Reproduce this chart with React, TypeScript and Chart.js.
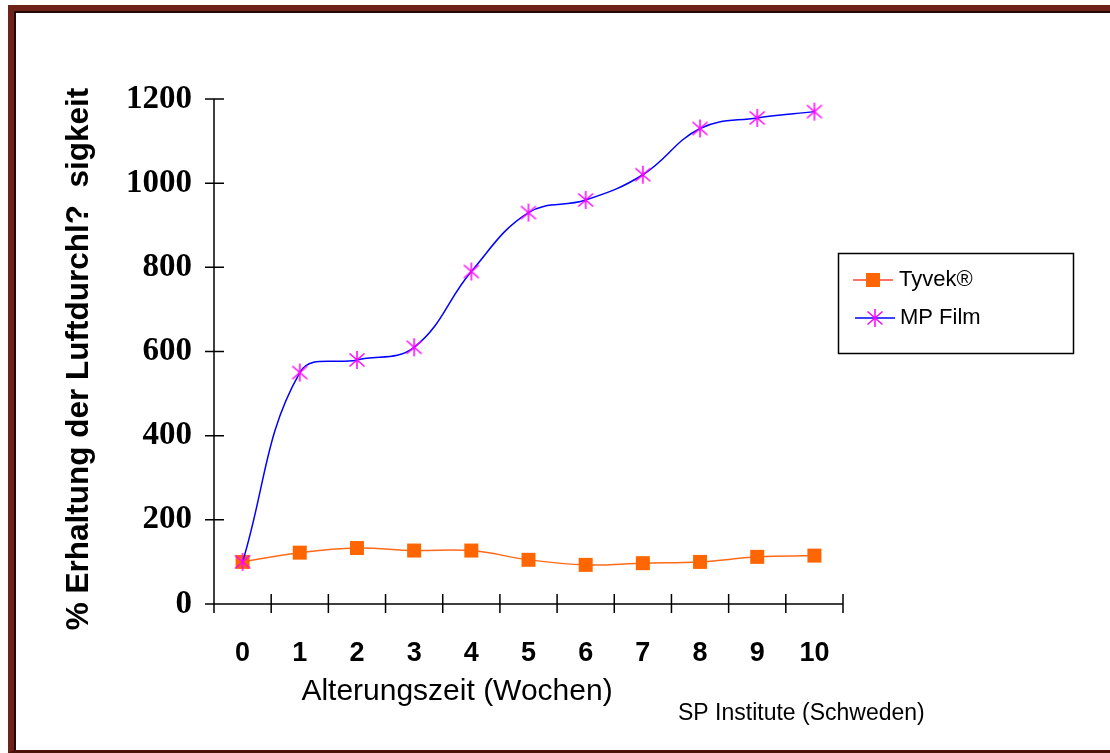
import React, { useEffect, useRef } from "react";
import { Chart, registerables } from "chart.js";

Chart.register(...registerables);

// ---- data ----
const weeks = ["0", "1", "2", "3", "4", "5", "6", "7", "8", "9", "10"];
const tyvekValues = [100, 122, 133, 127, 127, 105, 93, 97, 100, 112, 115];
const mpFilmValues = [100, 550, 580, 610, 790, 930, 960, 1020, 1130, 1155, 1170];
const yTickValues = [0, 200, 400, 600, 800, 1000, 1200];
const seriesNames = ["Tyvek®", "MP Film"];
const yTitle = "% Erhaltung der Luftdurchl?  sigkeit";
const xTitle = "Alterungszeit (Wochen)";
const sourceNote = "SP Institute (Schweden)";

const SANS = "'Liberation Sans', Arial, sans-serif";
const SERIF = "'Liberation Serif', 'Times New Roman', serif";
const TYVEK_COLOR = "#ff6600";
const TYVEK_LINE = "#ff6a1a";
const MP_LINE = "#0000ff";
const MP_MARK = "#ff00ff";

function drawAsterisk(ctx: CanvasRenderingContext2D, cx: number, cy: number) {
  ctx.save();
  ctx.strokeStyle = MP_MARK;
  ctx.lineWidth = 1.5;
  ctx.beginPath();
  ctx.moveTo(cx, cy - 9);
  ctx.lineTo(cx, cy + 9);
  ctx.moveTo(cx - 7.5, cy - 6.5);
  ctx.lineTo(cx + 7.5, cy + 6.5);
  ctx.moveTo(cx + 7.5, cy - 6.5);
  ctx.lineTo(cx - 7.5, cy + 6.5);
  ctx.stroke();
  ctx.restore();
}

function makeAsteriskCanvas(): HTMLCanvasElement {
  const c = document.createElement("canvas");
  c.width = 20;
  c.height = 20;
  const g = c.getContext("2d");
  if (g) drawAsterisk(g, 10, 10);
  return c;
}

const decorPlugin = {
  id: "decor",
  beforeDatasetsDraw(chart: any) {
    const { ctx, chartArea: a, scales } = chart;
    const x = scales.x;
    const y = scales.y;
    ctx.save();
    ctx.strokeStyle = "#000";
    ctx.lineWidth = 1.5;
    ctx.beginPath();
    ctx.moveTo(a.left, y.getPixelForValue(yTickValues[yTickValues.length - 1]));
    ctx.lineTo(a.left, a.bottom);
    ctx.moveTo(a.left, a.bottom);
    ctx.lineTo(a.right, a.bottom);
    yTickValues.forEach((v) => {
      const py = y.getPixelForValue(v);
      ctx.moveTo(a.left - 9, py);
      ctx.lineTo(a.left + 10, py);
    });
    const step = x.getPixelForValue(1) - x.getPixelForValue(0);
    for (let i = 0; i <= weeks.length; i++) {
      const px = x.getPixelForValue(0) - step / 2 + i * step;
      ctx.moveTo(px, a.bottom - 10);
      ctx.lineTo(px, a.bottom + 9);
    }
    ctx.stroke();
    ctx.restore();
  },
  afterDraw(chart: any) {
    const { ctx } = chart;
    ctx.save();
    ctx.fillStyle = "#000";
    // y title
    ctx.save();
    ctx.translate(79, 359);
    ctx.rotate(-Math.PI / 2);
    ctx.textAlign = "center";
    ctx.textBaseline = "middle";
    ctx.font = `bold 31.5px ${SANS}`;
    ctx.fillText(yTitle, 0, 0);
    ctx.restore();
    // x title
    ctx.textAlign = "center";
    ctx.textBaseline = "middle";
    ctx.font = `30px ${SANS}`;
    ctx.fillText(xTitle, 457, 692);
    // source note
    ctx.textAlign = "left";
    ctx.font = `23px ${SANS}`;
    ctx.fillText(sourceNote, 678, 714);

    // legend
    ctx.strokeStyle = "#000";
    ctx.lineWidth = 1.5;
    ctx.strokeRect(838.5, 253.5, 235, 100);
    const rows = [280, 318];
    ctx.font = `22px ${SANS}`;
    ctx.textBaseline = "middle";
    ctx.strokeStyle = "#ff4433";
    ctx.lineWidth = 1.5;
    ctx.beginPath();
    ctx.moveTo(853, rows[0]);
    ctx.lineTo(893, rows[0]);
    ctx.stroke();
    ctx.fillStyle = TYVEK_COLOR;
    ctx.fillRect(866, rows[0] - 7, 14, 14);
    ctx.fillStyle = "#000";
    ctx.fillText(seriesNames[0], 899, rows[0]);
    ctx.strokeStyle = MP_LINE;
    ctx.beginPath();
    ctx.moveTo(855, rows[1]);
    ctx.lineTo(895, rows[1]);
    ctx.stroke();
    drawAsterisk(ctx, 875, rows[1]);
    ctx.fillStyle = "#000";
    ctx.fillText(seriesNames[1], 900, rows[1]);
    ctx.restore();
  },
};

export default function App() {
  const ref = useRef<HTMLCanvasElement | null>(null);

  useEffect(() => {
    if (!ref.current) return;
    const star = makeAsteriskCanvas();
    const chart = new Chart(ref.current, {
      type: "line",
      data: {
        labels: weeks,
        datasets: [
          {
            label: seriesNames[0],
            data: tyvekValues,
            borderColor: TYVEK_LINE,
            backgroundColor: TYVEK_COLOR,
            borderWidth: 1.5,
            tension: 0.4,
            pointStyle: "rect",
            pointRadius: 9.9,
            pointBorderWidth: 0,
            pointBackgroundColor: TYVEK_COLOR,
            pointBorderColor: TYVEK_COLOR,
            order: 1,
          },
          {
            label: seriesNames[1],
            data: mpFilmValues,
            borderColor: MP_LINE,
            backgroundColor: MP_MARK,
            borderWidth: 1.5,
            tension: 0.4,
            pointStyle: star as any,
            pointRadius: 10,
            order: 0,
          },
        ],
      },
      options: {
        responsive: false,
        animation: false,
        devicePixelRatio: 1,
        layout: { padding: { left: 0, top: 99, right: 1110 - 843, bottom: 0 } },
        plugins: {
          legend: { display: false },
          title: { display: false },
          tooltip: { enabled: false },
        },
        scales: {
          x: {
            type: "category",
            offset: true,
            grid: { display: false, drawTicks: false },
            border: { display: false },
            ticks: {
              color: "#000",
              font: { family: SANS, size: 27, weight: "bold" },
              padding: 33,
              maxRotation: 0,
              autoSkip: false,
            },
            afterFit: (s: any) => {
              s.height = 753 - 604;
              s.paddingLeft = 0;
              s.paddingRight = 0;
            },
          },
          y: {
            min: 0,
            max: 1200,
            afterBuildTicks: (s: any) => {
              s.ticks = yTickValues.map((v) => ({ value: v }));
            },
            grid: { display: false, drawTicks: false },
            border: { display: false },
            ticks: {
              color: "#000",
              font: { family: SERIF, size: 33, weight: "bold" },
              padding: 22,
              callback: (v: any) => String(v),
            },
            afterFit: (s: any) => {
              s.width = 214;
              s.paddingTop = 0;
              s.paddingBottom = 0;
            },
          },
        },
      },
      plugins: [decorPlugin],
    });
    return () => chart.destroy();
  }, []);

  return (
    <div
      style={{
        position: "fixed",
        left: 0,
        top: 0,
        width: 1110,
        height: 753,
        overflow: "hidden",
        background: "#fff",
      }}
    >
      <div
        style={{
          position: "absolute",
          left: 8,
          top: 5,
          width: 1200,
          height: 748,
          boxSizing: "border-box",
          borderLeft: "6px solid #6d2317",
          borderTop: "6px solid #6d2317",
          borderBottom: "3px solid #4a120b",
        }}
      >
        <div
          style={{
            position: "absolute",
            left: 0,
            top: 0,
            right: 0,
            bottom: 0,
            borderLeft: "2px solid #250805",
            borderTop: "2px solid #250805",
          }}
        />
      </div>
      <canvas
        ref={ref}
        width={1110}
        height={753}
        style={{ position: "absolute", left: 0, top: 0, width: 1110, height: 753 }}
      />
    </div>
  );
}
